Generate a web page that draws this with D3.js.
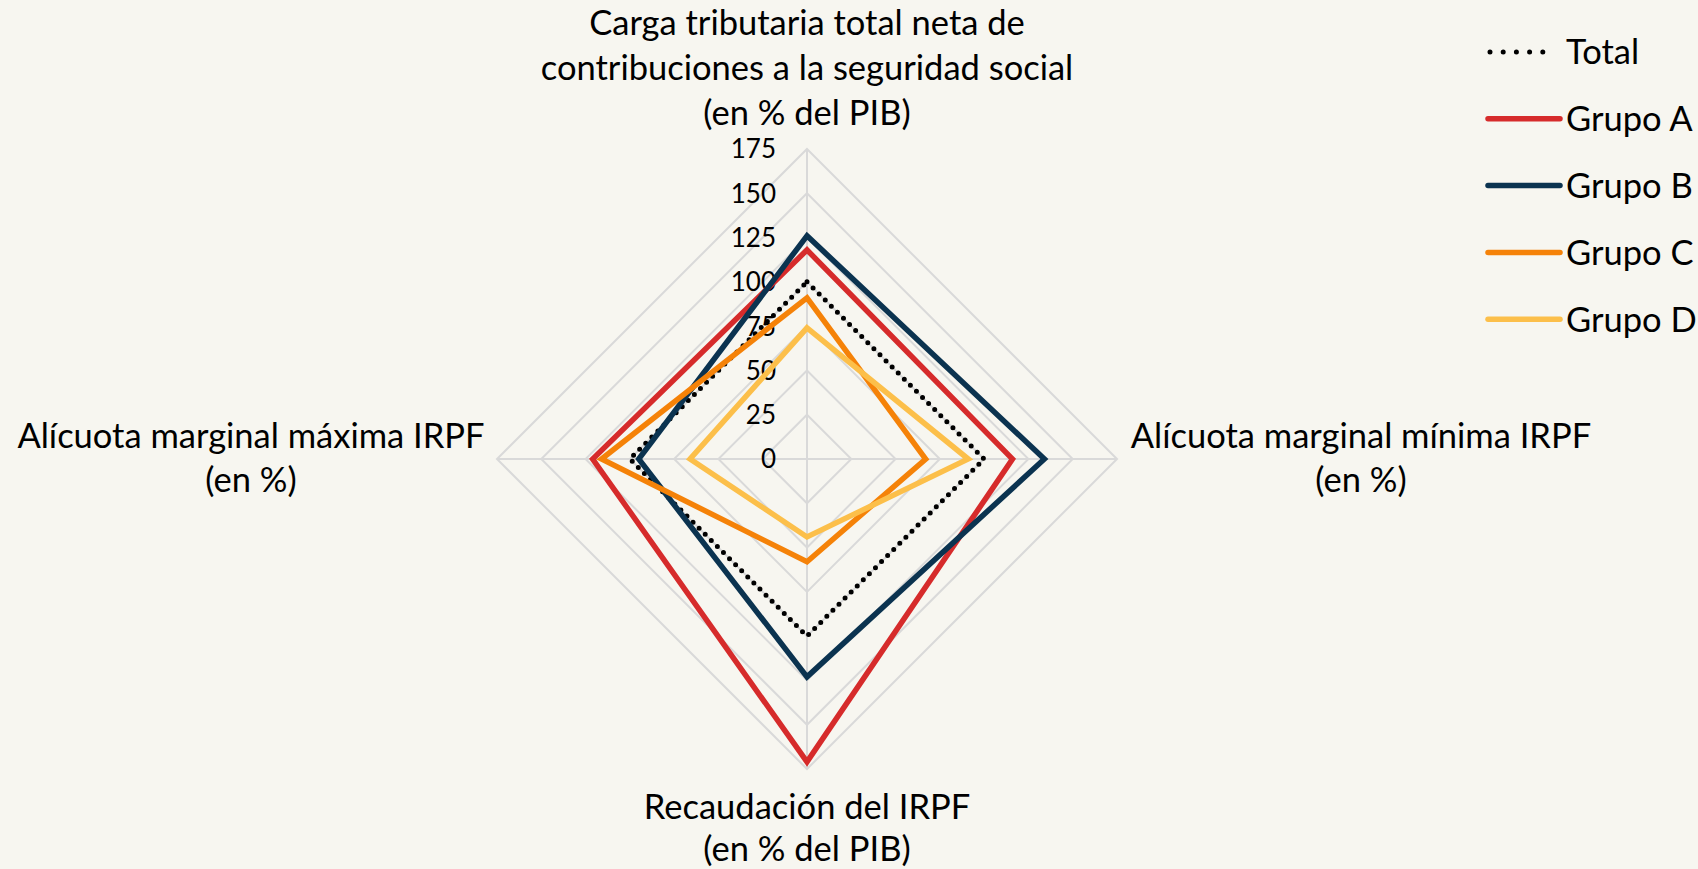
<!DOCTYPE html>
<html>
<head>
<meta charset="utf-8">
<script src="https://cdn.jsdelivr.net/npm/d3@7/dist/d3.min.js"></script>
<style>
  html, body { margin: 0; padding: 0; background: #f7f6f0; }
  svg { display: block; }
  text { font-family: Lato, "Noto Sans", sans-serif; fill: #000; }
</style>
</head>
<body>
<svg id="radar"></svg>
<script>
// Axis labels, clockwise from the top
const axes = [
  ["Carga tributaria total neta de", "contribuciones a la seguridad social", "(en % del PIB)"],
  ["Alícuota marginal mínima IRPF", "(en %)"],
  ["Recaudación del IRPF", "(en % del PIB)"],
  ["Alícuota marginal máxima IRPF", "(en %)"]
];

const seriesNames = ["Total", "Grupo A", "Grupo B", "Grupo C", "Grupo D"];
const totalValues = [100, 100, 100, 100];
const grupoA = [118, 116, 171, 121];
const grupoB = [126, 134, 123, 95];
const grupoC = [91, 67, 58, 116];
const grupoD = [74, 91, 44, 66];

const ticks = [0, 25, 50, 75, 100, 125, 150, 175];

const colors = ["#000000", "#d62b2b", "#0b3350", "#f58208", "#fcbf4a"];
const seriesValues = [totalValues, grupoA, grupoB, grupoC, grupoD];

const W = 1698, H = 869;
const cx = 807, cy = 459;
const R = 310;

const svg = d3.select("#radar").attr("width", W).attr("height", H);
const g = svg.append("g").attr("transform", "translate(" + cx + "," + cy + ")");

const r = d3.scaleLinear().domain([0, 175]).range([0, R]);
const angle = d3.scaleLinear().domain([0, axes.length]).range([0, 2 * Math.PI]);

const pt = (v, i) => [r(v) * Math.sin(angle(i)), -r(v) * Math.cos(angle(i))];

// grid rings
ticks.slice(1).forEach(t => {
  g.append("polygon")
    .attr("points", axes.map((a, i) => pt(t, i).join(",")).join(" "))
    .attr("fill", "none")
    .attr("stroke", "#d9d9d9")
    .attr("stroke-width", 2);
});

// spokes
axes.forEach((a, i) => {
  const [x, y] = pt(175, i);
  g.append("line")
    .attr("x1", 0).attr("y1", 0).attr("x2", x).attr("y2", y)
    .attr("stroke", "#d9d9d9")
    .attr("stroke-width", 2);
});

// tick labels
g.selectAll(".tick-label")
  .data(ticks)
  .enter()
  .append("text")
  .attr("class", "tick-label")
  .attr("x", -31)
  .attr("y", d => -r(d))
  .attr("dy", "0.36em")
  .attr("text-anchor", "end")
  .style("font-size", "26px")
  .text(d => d);

// series
const line = d3.line().curve(d3.curveLinearClosed);

seriesValues.forEach((vals, s) => {
  const path = g.append("path")
    .attr("d", line(vals.map((v, i) => pt(v, i))))
    .attr("fill", "none")
    .attr("stroke", colors[s])
    .attr("stroke-linejoin", "miter");
  if (s === 0) {
    path.attr("stroke-width", 5)
      .attr("stroke-linecap", "round")
      .attr("stroke-dasharray", "0 8.6");
  } else {
    path.attr("stroke-width", 5.5);
  }
});

// axis labels
const labelPos = [
  { x: 0, y: 23 - cy, lh: 45 },
  { x: 554, y: -23, lh: 44 },
  { x: 0, y: 348, lh: 42 },
  { x: -556, y: -23, lh: 44 }
];
axes.forEach((lines, i) => {
  const t = g.append("text")
    .attr("text-anchor", "middle")
    .style("font-size", "34.5px");
  lines.forEach((l, k) => {
    t.append("tspan")
      .attr("x", labelPos[i].x)
      .attr("y", labelPos[i].y + k * labelPos[i].lh)
      .attr("dy", "0.36em")
      .text(l);
  });
});

// legend
const legend = svg.append("g").attr("transform", "translate(1488,52)");
seriesNames.forEach((name, s) => {
  const row = legend.append("g").attr("transform", "translate(0," + s * 66.8 + ")");
  const ln = row.append("line")
    .attr("x1", 0).attr("x2", 72).attr("y1", 0).attr("y2", 0)
    .attr("stroke", colors[s])
    .attr("stroke-linecap", "round");
  if (s === 0) {
    ln.attr("x1", 2).attr("x2", 68).attr("stroke-width", 5).attr("stroke-dasharray", "0 13.2");
  } else {
    ln.attr("stroke-width", 5.5);
  }
  row.append("text")
    .attr("x", 78)
    .attr("y", 0)
    .attr("dy", "0.36em")
    .style("font-size", "34.5px")
    .text(name);
});
</script>
</body>
</html>
